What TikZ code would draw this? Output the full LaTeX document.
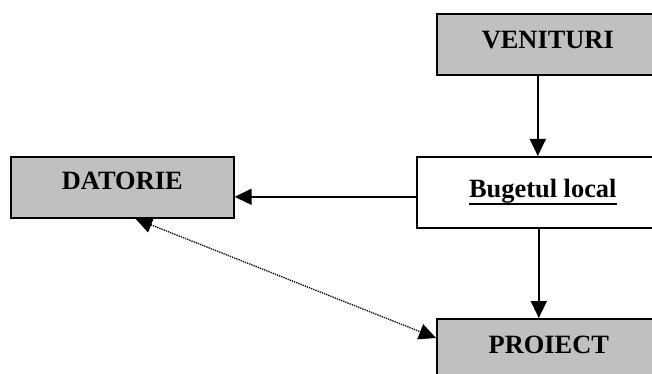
\documentclass[tikz,border=0pt]{standalone}
\usepackage{fontspec}
\setmainfont{Liberation Serif}
\usetikzlibrary{arrows.meta}
\definecolor{boxgray}{RGB}{192,192,192}
% underline drawn as a thick rule under the word box
\newcommand{\ulbox}[1]{\setbox0\hbox{#1}\rlap{\rule[-7pt]{\wd0}{2pt}}\box0}
\tikzset{
  block/.style={draw, line width=1.6pt, anchor=north west, inner ysep=0pt,
    font=\fontsize{26.4}{30}\selectfont\bfseries},
  grayblock/.style={block, fill=boxgray},
  arr/.style={line width=1.5pt, -{Triangle[length=17pt,width=16pt]}},
  dotarr/.style={line width=1.3pt, densely dotted,
    {Triangle[length=17pt,width=16pt]}-{Triangle[length=17pt,width=16pt]}}
}
\begin{document}
\begin{tikzpicture}[x=1pt,y=-1pt]
\useasboundingbox (0,0) rectangle (652,374);
\clip (0,0) rectangle (652,374);
\fill[white] (0,0) rectangle (652,374);
\node[grayblock, minimum width=222pt, text height=35pt, text depth=26pt] (venituri) at (436,13) {VENITURI};
\node[block, fill=white, minimum width=252pt, text height=41pt, text depth=30pt] (buget) at (416,156) {\ulbox{Bugetul local}};
\node[grayblock, minimum width=223pt, text height=33pt, text depth=28pt] (datorie) at (10,156) {DATORIE};
\node[grayblock, minimum width=224pt, text height=35pt, text depth=60pt] (proiect) at (436,318) {PROIECT};
\draw[arr] ([xshift=-10pt]venituri.south) -- ([xshift=-10pt]venituri.south |- buget.north);
\draw[arr] ([yshift=-4.5pt]buget.west) -- ([yshift=-4.5pt]buget.west -| datorie.east);
\draw[arr] ([xshift=-4pt]buget.south) -- ([xshift=-4pt]buget.south |- proiect.north);
\draw[dotarr] ([xshift=13pt]datorie.south) -- ([yshift=-20pt]proiect.north west);
\end{tikzpicture}
\end{document}
